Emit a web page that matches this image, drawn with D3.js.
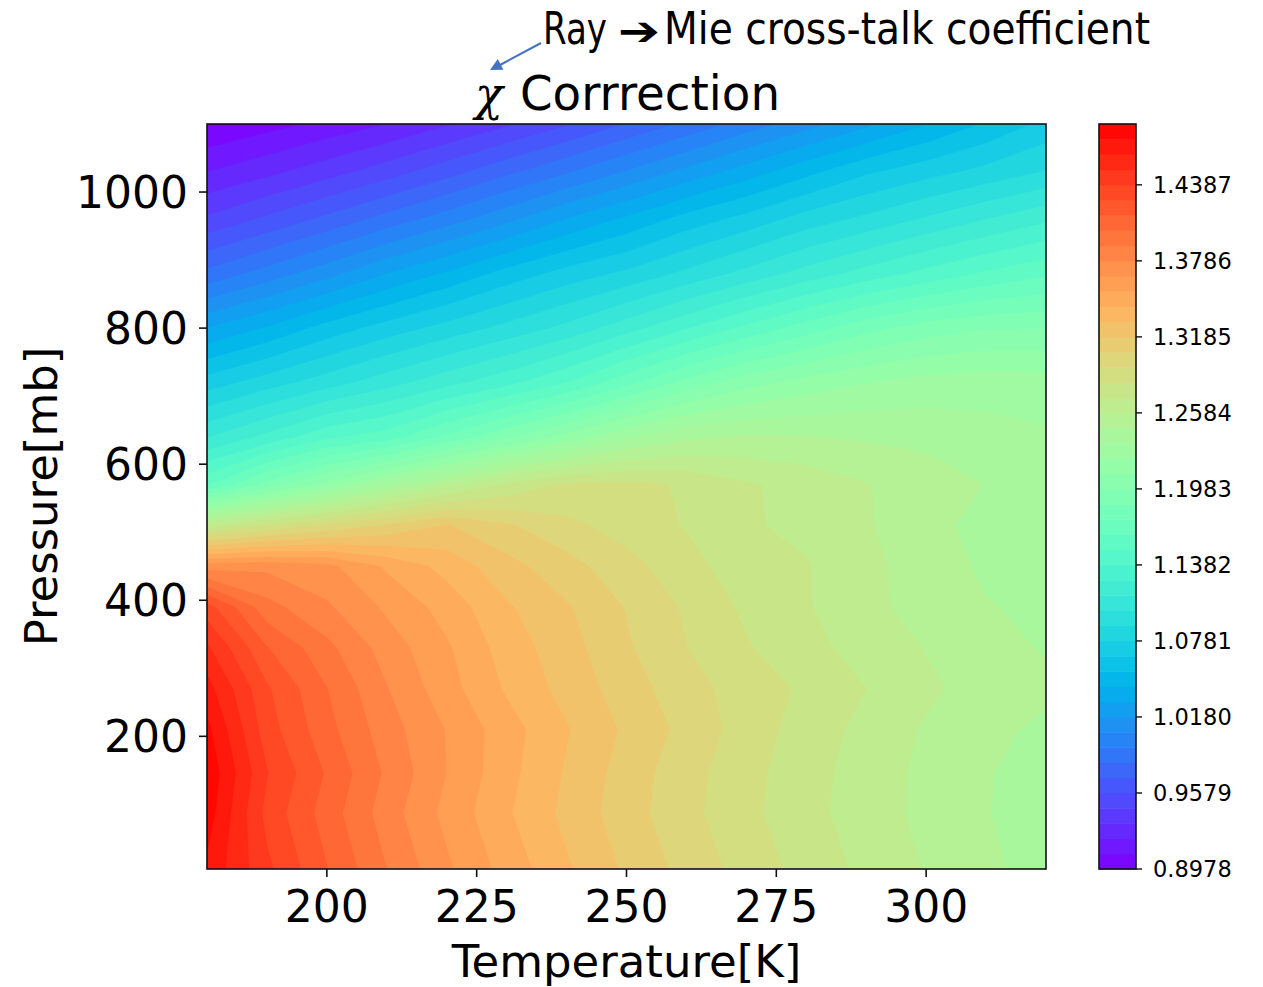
<!DOCTYPE html>
<html>
<head>
<meta charset="utf-8">
<script src="https://cdn.jsdelivr.net/npm/d3@7"></script>
<style>
  body { margin: 0; background: #fff; }
  text { font-family: 'DejaVu Sans', sans-serif; fill: #000; }
</style>
</head>
<body>
<div id="chart"></div>
<script>
// grid columns (Temperature, K) and rows (Pressure, mb)
var temps = [180, 190, 200, 210, 220, 230, 240, 250, 260, 270, 280, 290, 300, 310, 320]
var pressures = [5, 87, 146, 210, 270, 330, 390, 450, 510, 570, 640, 720, 800, 880, 960, 1030, 1100]

// chi correction, one row per pressure level
var chiAt5 = [1.472, 1.4415, 1.4152, 1.3906, 1.3687, 1.3498, 1.3323, 1.3163, 1.3023, 1.2896, 1.2778, 1.2673, 1.2576, 1.2492, 1.2407]
var chiAt87 = [1.481, 1.4349, 1.4091, 1.3845, 1.363, 1.3442, 1.3272, 1.3118, 1.2981, 1.2857, 1.2744, 1.2644, 1.2552, 1.2471, 1.2385]
var chiAt146 = [1.484, 1.4394, 1.4132, 1.3884, 1.3664, 1.3465, 1.3291, 1.3131, 1.299, 1.2863, 1.2752, 1.2647, 1.2555, 1.2475, 1.24]
var chiAt210 = [1.478, 1.4323, 1.4066, 1.384, 1.3659, 1.3477, 1.3315, 1.3163, 1.3027, 1.289, 1.277, 1.2668, 1.2569, 1.2492, 1.244]
var chiAt270 = [1.4675, 1.4284, 1.4029, 1.3792, 1.3593, 1.341, 1.326, 1.3124, 1.2991, 1.289, 1.2802, 1.2705, 1.261, 1.2526, 1.249]
var chiAt330 = [1.4528, 1.4154, 1.3941, 1.3731, 1.3562, 1.337, 1.3235, 1.308, 1.2947, 1.2836, 1.2741, 1.2658, 1.2578, 1.25, 1.2455]
var chiAt390 = [1.4318, 1.395, 1.3804, 1.3643, 1.3497, 1.3321, 1.3198, 1.3058, 1.2925, 1.28, 1.2715, 1.2617, 1.2535, 1.247, 1.2439]
var chiAt450 = [1.3726, 1.3755, 1.3699, 1.3526, 1.3382, 1.3227, 1.3111, 1.2986, 1.287, 1.2755, 1.2712, 1.2615, 1.2526, 1.2443, 1.2417]
var chiAt510 = [1.2659, 1.2824, 1.2957, 1.3076, 1.3193, 1.3083, 1.2976, 1.2893, 1.2815, 1.2717, 1.2678, 1.2595, 1.251, 1.2414, 1.2395]
var chiAt570 = [1.1612, 1.1903, 1.2135, 1.236, 1.255, 1.272, 1.284, 1.286, 1.281, 1.272, 1.266, 1.259, 1.253, 1.246, 1.24]
var chiAt640 = [1.1131, 1.1296, 1.1474, 1.1562, 1.1768, 1.196, 1.214, 1.232, 1.244, 1.248, 1.247, 1.245, 1.243, 1.239, 1.236]
var chiAt720 = [1.0716, 1.0841, 1.0964, 1.109, 1.1219, 1.1344, 1.15, 1.17, 1.19, 1.205, 1.215, 1.222, 1.227, 1.229, 1.228]
var chiAt800 = [1.03, 1.0433, 1.0586, 1.0712, 1.0824, 1.0936, 1.1055, 1.121, 1.137, 1.153, 1.168, 1.182, 1.192, 1.197, 1.198]
var chiAt880 = [0.9853, 0.999, 1.0137, 1.03, 1.0438, 1.0586, 1.0708, 1.0806, 1.093, 1.106, 1.119, 1.131, 1.142, 1.152, 1.16]
var chiAt960 = [0.9481, 0.9602, 0.9729, 0.9864, 1.0002, 1.0147, 1.0306, 1.0443, 1.0588, 1.0703, 1.0833, 1.093, 1.1036, 1.114, 1.1238]
var chiAt1030 = [0.9218, 0.9305, 0.9407, 0.9521, 0.9649, 0.9788, 0.9925, 1.0065, 1.0213, 1.0358, 1.0502, 1.064, 1.0732, 1.0817, 1.0908]
var chiAt1100 = [0.8978, 0.9052, 0.9135, 0.9218, 0.9327, 0.944, 0.9566, 0.9706, 0.9848, 0.9989, 1.0131, 1.0272, 1.0413, 1.0555, 1.0697]

var chiRows = [chiAt5, chiAt87, chiAt146, chiAt210, chiAt270, chiAt330, chiAt390, chiAt450,
  chiAt510, chiAt570, chiAt640, chiAt720, chiAt800, chiAt880, chiAt960, chiAt1030, chiAt1100]

// contour levels
var levelMin = 0.8978
var levelMax = 1.4868
var levelCount = 50

var xTicks = [200, 225, 250, 275, 300]
var yTicks = [200, 400, 600, 800, 1000]
var colorbarTicks = ['0.8978', '0.9579', '1.0180', '1.0781', '1.1382', '1.1983', '1.2584', '1.3185', '1.3786', '1.4387']

var svg = d3
  .select('#chart')
  .append('svg')
  .attr('width', 1263)
  .attr('height', 987)

var plot = { left: 207, right: 1046, top: 124, bottom: 869 }

var xScale = d3.scaleLinear().domain([180, 320]).range([plot.left, plot.right])
var yScale = d3.scaleLinear().domain([5, 1100]).range([plot.bottom, plot.top])

// matplotlib 'rainbow'
function rainbow(t) {
  var clamp = v => Math.max(0, Math.min(1, v))
  var r = clamp(Math.abs(2 * t - 0.5))
  var g = clamp(Math.sin(Math.PI * t))
  var b = clamp(Math.cos((Math.PI * t) / 2))
  return d3.rgb(r * 255, g * 255, b * 255).formatHex()
}

var levels = d3.range(levelCount).map(k => levelMin + (k * (levelMax - levelMin)) / (levelCount - 1))
var bandColor = k => rainbow((k + 0.5) / (levelCount - 1))

var n = temps.length
var m = pressures.length
var values = []
chiRows.forEach(row => row.forEach(v => values.push(v)))

// grid index -> data coordinate (values sit at cell centres in d3.contours)
function gridTo(arr, g) {
  var idx = Math.max(0, Math.min(arr.length - 1, g - 0.5))
  var i0 = Math.min(Math.floor(idx), arr.length - 2)
  return arr[i0] + (idx - i0) * (arr[i0 + 1] - arr[i0])
}

var projection = d3.geoTransform({
  point: function(x, y) {
    this.stream.point(xScale(gridTo(temps, x)), yScale(gridTo(pressures, y)))
  }
})
var path = d3.geoPath(projection)

var contours = d3
  .contours()
  .size([n, m])
  .thresholds(levels.slice(0, levelCount - 1))(values)

svg
  .append('clipPath')
  .attr('id', 'plot-clip')
  .append('rect')
  .attr('x', plot.left)
  .attr('y', plot.top)
  .attr('width', plot.right - plot.left)
  .attr('height', plot.bottom - plot.top)

svg
  .append('g')
  .attr('clip-path', 'url(#plot-clip)')
  .selectAll('path')
  .data(contours)
  .enter()
  .append('path')
  .attr('d', path)
  .attr('fill', (d, i) => bandColor(i))
  .attr('stroke', (d, i) => bandColor(i))
  .attr('stroke-width', 0.5)

// frame
svg
  .append('rect')
  .attr('x', plot.left)
  .attr('y', plot.top)
  .attr('width', plot.right - plot.left)
  .attr('height', plot.bottom - plot.top)
  .attr('fill', 'none')
  .attr('stroke', '#111')
  .attr('stroke-width', 1.6)

// x axis
var xAxis = svg.append('g')
xAxis
  .selectAll('line')
  .data(xTicks)
  .enter()
  .append('line')
  .attr('x1', d => xScale(d))
  .attr('x2', d => xScale(d))
  .attr('y1', plot.bottom)
  .attr('y2', plot.bottom + 8)
  .attr('stroke', '#111')
  .attr('stroke-width', 1.6)
xAxis
  .selectAll('text')
  .data(xTicks)
  .enter()
  .append('text')
  .attr('x', d => xScale(d))
  .attr('y', 922)
  .attr('text-anchor', 'middle')
  .attr('font-size', 44)
  .text(d => d)

// y axis
var yAxis = svg.append('g')
yAxis
  .selectAll('line')
  .data(yTicks)
  .enter()
  .append('line')
  .attr('x1', plot.left - 8)
  .attr('x2', plot.left)
  .attr('y1', d => yScale(d))
  .attr('y2', d => yScale(d))
  .attr('stroke', '#111')
  .attr('stroke-width', 1.6)
yAxis
  .selectAll('text')
  .data(yTicks)
  .enter()
  .append('text')
  .attr('x', 188)
  .attr('y', d => yScale(d))
  .attr('dy', '0.36em')
  .attr('text-anchor', 'end')
  .attr('font-size', 44)
  .text(d => d)

svg
  .append('text')
  .attr('x', (plot.left + plot.right) / 2)
  .attr('y', 977)
  .attr('text-anchor', 'middle')
  .attr('font-size', 45)
  .text('Temperature[K]')

svg
  .append('text')
  .attr('transform', 'translate(57,' + (plot.top + plot.bottom) / 2 + ') rotate(-90)')
  .attr('text-anchor', 'middle')
  .attr('font-size', 45)
  .text('Pressure[mb]')

// colorbar
var cb = { left: 1099, right: 1136 }
var cScale = d3.scaleLinear().domain([levelMin, levelMax]).range([plot.bottom, plot.top])

svg
  .append('g')
  .selectAll('rect')
  .data(d3.range(levelCount - 1))
  .enter()
  .append('rect')
  .attr('x', cb.left)
  .attr('width', cb.right - cb.left)
  .attr('y', k => cScale(levels[k + 1]))
  .attr('height', k => cScale(levels[k]) - cScale(levels[k + 1]) + 0.5)
  .attr('fill', k => bandColor(k))

svg
  .append('rect')
  .attr('x', cb.left)
  .attr('y', plot.top)
  .attr('width', cb.right - cb.left)
  .attr('height', plot.bottom - plot.top)
  .attr('fill', 'none')
  .attr('stroke', '#111')
  .attr('stroke-width', 1.6)

var cbAxis = svg.append('g')
cbAxis
  .selectAll('line')
  .data(colorbarTicks)
  .enter()
  .append('line')
  .attr('x1', cb.right)
  .attr('x2', cb.right + 6)
  .attr('y1', d => cScale(+d))
  .attr('y2', d => cScale(+d))
  .attr('stroke', '#111')
  .attr('stroke-width', 1.4)
cbAxis
  .selectAll('text')
  .data(colorbarTicks)
  .enter()
  .append('text')
  .attr('x', 1153)
  .attr('y', d => cScale(+d))
  .attr('dy', '0.36em')
  .attr('font-size', 22.5)
  .text(d => d)

// titles (overlaid annotation)
var title = svg
  .append('text')
  .attr('x', 475)
  .attr('y', 110)
  .attr('font-family', 'Lato, Carlito, sans-serif')
  .attr('font-size', 48)
title
  .append('tspan')
  .attr('font-family', 'DejaVu Serif, serif')
  .attr('font-style', 'italic')
  .attr('font-size', 46)
  .text('\u03c7')
title
  .append('tspan')
  .attr('x', 520)
  .attr('textLength', 260)
  .attr('lengthAdjust', 'spacingAndGlyphs')
  .text('Corrrection')

var note = svg
  .append('text')
  .attr('y', 44)
  .attr('font-family', 'Lato, Carlito, sans-serif')
  .attr('font-size', 44)
note
  .append('tspan')
  .attr('x', 543)
  .attr('textLength', 64)
  .attr('lengthAdjust', 'spacingAndGlyphs')
  .text('Ray')
note
  .append('tspan')
  .attr('x', 618)
  .attr('dy', 1)
  .attr('font-family', 'DejaVu Sans, sans-serif')
  .attr('font-weight', 'bold')
  .attr('font-size', 40)
  .attr('textLength', 42)
  .attr('lengthAdjust', 'spacingAndGlyphs')
  .text('\u2794')
note
  .append('tspan')
  .attr('x', 664)
  .attr('dy', -1)
  .attr('textLength', 486)
  .attr('lengthAdjust', 'spacingAndGlyphs')
  .text('Mie cross-talk coefficient')

svg
  .append('line')
  .attr('x1', 541)
  .attr('y1', 43)
  .attr('x2', 500)
  .attr('y2', 65)
  .attr('stroke', '#4472c4')
  .attr('stroke-width', 2)

svg
  .append('polygon')
  .attr('points', '490,70 503.4,69.7 497.8,59.1')
  .attr('fill', '#4472c4')
</script>
</body>
</html>
